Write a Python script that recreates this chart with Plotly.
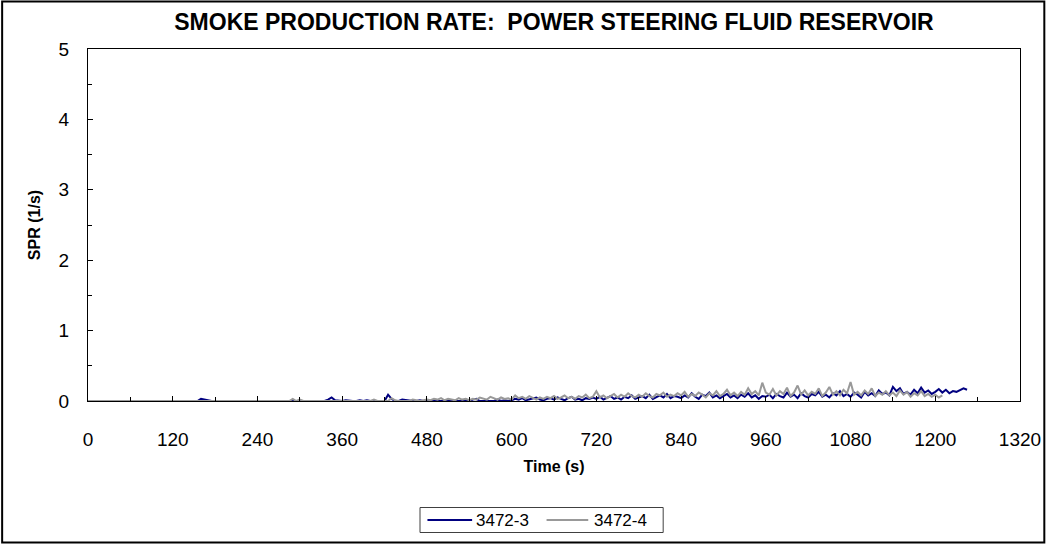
import plotly.graph_objects as go

# Sampling interval of the recorded smoke production rate (s)
SAMPLE_INTERVAL = 5

# Test 3472-3: smoke production rate (1/s), one row per minute
spr_3472_3 = [
    0, 0, 0, 0, 0, 0, 0, 0, 0, 0, 0, 0,
    0, 0, 0, 0, 0, 0, 0, 0, 0, 0, 0, 0,
    0, 0, 0, 0, 0, 0, 0, 0, 0.03, 0.02, 0, 0,
    0, 0, 0, 0, 0.01, 0, 0, 0.01, 0, 0, 0, 0,
    0, 0, 0, 0, 0, 0, 0, 0, 0, 0, 0, 0,
    0, 0, 0, 0, 0, 0, 0, 0, 0.02, 0.05, 0.01, 0,
    0, 0.01, 0, 0, 0, 0.01, 0, 0.01, 0, 0, 0, 0,
    0, 0.09, 0.03, 0, 0, 0.02, 0.01, 0, 0, 0, 0.01, 0,
    0, 0, 0, 0, 0.01, 0, 0, 0, 0, 0, 0.01, 0,
    0, 0.02, 0.03, 0, 0, 0.01, 0, 0, 0.02, 0, 0.01, 0,
    0.01, 0.03, 0.02, 0.04, 0.01, 0.02, 0.03, 0.05, 0.02, 0.01, 0.03, 0.04,
    0.02, 0.05, 0.03, 0.01, 0.04, 0.06, 0.02, 0.03, 0.01, 0.04, 0.03, 0.05,
    0.03, 0.06, 0.02, 0.04, 0.07, 0.03, 0.05, 0.02, 0.06, 0.04, 0.08, 0.03,
    0.05, 0.07, 0.04, 0.09, 0.03, 0.06, 0.08, 0.05, 0.10, 0.04, 0.07, 0.06,
    0.04, 0.08, 0.05, 0.11, 0.06, 0.03, 0.09, 0.07, 0.12, 0.05, 0.08, 0.04,
    0.07, 0.10, 0.05, 0.08, 0.04, 0.09, 0.06, 0.11, 0.05, 0.08, 0.03, 0.07,
    0.06, 0.09, 0.04, 0.10, 0.07, 0.05, 0.12, 0.06, 0.09, 0.04, 0.11, 0.07,
    0.05, 0.10, 0.08, 0.13, 0.06, 0.09, 0.05, 0.11, 0.08, 0.14, 0.07, 0.10,
    0.06, 0.12, 0.09, 0.05, 0.13, 0.08, 0.11, 0.07, 0.15, 0.10, 0.12, 0.08,
    0.20, 0.14, 0.18, 0.10, 0.13, 0.09, 0.16, 0.11, 0.19, 0.12, 0.15, 0.10,
    0.13, 0.17, 0.12, 0.16, 0.11, 0.14, 0.13, 0.15, 0.18, 0.16,
]

# Test 3472-4: smoke production rate (1/s), one row per minute
spr_3472_4 = [
    0, 0, 0, 0, 0, 0, 0, 0, 0, 0, 0, 0,
    0.01, 0, 0, 0, 0, 0, 0, 0, 0, 0, 0, 0,
    0, 0, 0, 0, 0, 0, 0, 0, 0, 0, 0, 0,
    0, 0, 0, 0, 0, 0, 0.01, 0, 0, 0, 0, 0,
    0, 0, 0, 0, 0, 0, 0, 0, 0, 0, 0.03, 0,
    0.02, 0, 0, 0, 0, 0, 0, 0, 0, 0, 0, 0,
    0, 0, 0, 0.01, 0, 0, 0, 0, 0, 0.02, 0, 0,
    0, 0, 0.04, 0.01, 0, 0, 0, 0, 0.02, 0.01, 0, 0.01,
    0.02, 0.01, 0.03, 0.02, 0.04, 0.01, 0.03, 0.02, 0.01, 0.04, 0.02, 0.03,
    0.01, 0.03, 0.02, 0.05, 0.03, 0.02, 0.06, 0.04, 0.02, 0.05, 0.03, 0.04,
    0.02, 0.08, 0.04, 0.06, 0.03, 0.07, 0.04, 0.02, 0.05, 0.03, 0.06, 0.04,
    0.07, 0.03, 0.05, 0.08, 0.04, 0.06, 0.03, 0.07, 0.05, 0.09, 0.04, 0.06,
    0.14, 0.05, 0.08, 0.04, 0.07, 0.10, 0.05, 0.09, 0.06, 0.11, 0.07, 0.05,
    0.09, 0.06, 0.11, 0.07, 0.05, 0.10, 0.08, 0.12, 0.06, 0.09, 0.07, 0.11,
    0.08, 0.13, 0.06, 0.10, 0.07, 0.12, 0.09, 0.05, 0.11, 0.08, 0.14, 0.07,
    0.10, 0.16, 0.08, 0.12, 0.07, 0.13, 0.09, 0.18, 0.10, 0.14, 0.08, 0.26,
    0.12, 0.09, 0.17, 0.08, 0.14, 0.10, 0.19, 0.07, 0.12, 0.22, 0.09, 0.15,
    0.08, 0.13, 0.10, 0.18, 0.07, 0.12, 0.20, 0.09, 0.14, 0.08, 0.16, 0.11,
    0.27, 0.09, 0.13, 0.08, 0.15, 0.10, 0.18, 0.07, 0.12, 0.09, 0.14, 0.08,
    0.12, 0.07, 0.15, 0.09, 0.13, 0.06, 0.11, 0.08, 0.14, 0.07, 0.10, 0.06,
    0.09, 0.05, 0.08,
]

time_3472_3 = [i * SAMPLE_INTERVAL for i in range(len(spr_3472_3))]
time_3472_4 = [i * SAMPLE_INTERVAL for i in range(len(spr_3472_4))]

series_names = ["3472-3", "3472-4"]
series_colors = ["#000080", "#999999"]

x_ticks = [0, 120, 240, 360, 480, 600, 720, 840, 960, 1080, 1200, 1320]
y_ticks = [0, 1, 2, 3, 4, 5]

FONT = "Liberation Sans, Arial, sans-serif"

fig = go.Figure()
for name, color, t, v in zip(series_names, series_colors,
                             [time_3472_3, time_3472_4], [spr_3472_3, spr_3472_4]):
    fig.add_trace(go.Scatter(x=t, y=v, mode="lines", name=name,
                             line=dict(color=color, width=2)))

W, H = 1053, 544
L, R, T, B = 88, 26, 49, 143
pw, ph = W - L - R, H - T - B


def px_to_paper_x(px):
    return (px - L) / pw


def px_to_paper_y(py):
    return (H - B - py) / ph


# Outer chart border
fig.add_shape(type="rect", xref="paper", yref="paper",
              x0=px_to_paper_x(1.5), x1=px_to_paper_x(W - 1.5),
              y0=px_to_paper_y(H - 1.5), y1=px_to_paper_y(1.5),
              line=dict(color="black", width=2), layer="below")

# Legend box below the axis title, with long line samples
fig.add_shape(type="rect", xref="paper", yref="paper",
              x0=px_to_paper_x(422.5), x1=px_to_paper_x(667.5),
              y0=px_to_paper_y(532.5), y1=px_to_paper_y(507.5),
              line=dict(color="#404040", width=1), fillcolor="white")
legend_entries = [(430, 475, 477), (550, 592, 596)]
legend_y = px_to_paper_y(520)
for (lx0, lx1, tx), name, color in zip(legend_entries, series_names, series_colors):
    fig.add_shape(type="line", xref="paper", yref="paper",
                  x0=px_to_paper_x(lx0), x1=px_to_paper_x(lx1),
                  y0=legend_y, y1=legend_y,
                  line=dict(color=color, width=2))
    fig.add_annotation(text=name, xref="paper", yref="paper",
                       x=px_to_paper_x(tx), y=legend_y,
                       xanchor="left", yanchor="middle", showarrow=False,
                       font=dict(size=17, family=FONT, color="black"))

fig.update_layout(
    width=W, height=H,
    margin=dict(l=L, r=R, t=T, b=B),
    paper_bgcolor="white", plot_bgcolor="white",
    font=dict(family=FONT, size=16, color="black"),
    title=dict(text="<b>SMOKE PRODUCTION RATE:  POWER STEERING FLUID RESERVOIR</b>",
               x=px_to_paper_x(557.5), xref="paper", xanchor="center",
               y=1 - 22 / H, yanchor="middle", yref="container",
               font=dict(size=23, family=FONT, color="black")),
    showlegend=False,
)

fig.update_xaxes(
    range=[0, 1320], tickvals=x_ticks, ticktext=[str(v) for v in x_ticks],
    ticks="inside", ticklen=5, tickcolor="black",
    minor=dict(dtick=60, tick0=0, ticks="inside", ticklen=4, tickcolor="black"),
    showline=True, linecolor="black", linewidth=1, mirror=True,
    showgrid=False, zeroline=False,
    tickfont=dict(size=19), ticklabelstandoff=21,
    title=dict(text="<b>Time (s)</b>", font=dict(size=16), standoff=12),
)
fig.update_yaxes(
    range=[0, 5], tickvals=y_ticks,
    ticks="inside", ticklen=5, tickcolor="black",
    minor=dict(dtick=0.5, tick0=0, ticks="inside", ticklen=4, tickcolor="black"),
    showline=True, linecolor="black", linewidth=1, mirror=True,
    showgrid=False, zeroline=False,
    tickfont=dict(size=19), ticklabelstandoff=14,
    title=dict(text="<b>SPR (1/s)</b>", font=dict(size=16), standoff=14),
)

fig.write_html("out.html")
